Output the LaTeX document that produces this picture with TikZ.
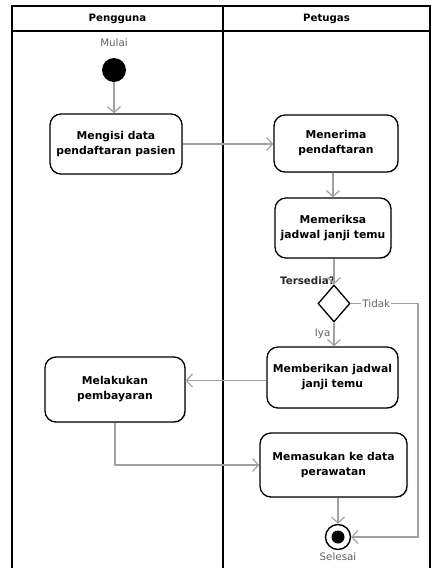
\documentclass[tikz,border=0pt]{standalone}
\usepackage{fontspec}
\setmainfont{DejaVu Sans}
\usepackage{tikz}
\usetikzlibrary{arrows.meta,shapes.geometric,shadows}
\definecolor{flowline}{gray}{0.63}
\definecolor{labgray}{gray}{0.38}
\tikzset{
  lane/.style={draw=black,line width=1.4pt},
  head/.style={font=\bfseries\fontsize{10.2}{12}\selectfont},
  act/.style={draw,line width=1.3pt,rounded corners=11pt,fill=white,align=center,inner sep=0pt,
    font=\bfseries\fontsize{10.8}{15}\selectfont,
    drop shadow={opacity=0.22,shadow xshift=1.2pt,shadow yshift=-1.2pt}},
  decide/.style={draw,diamond,line width=1.3pt,fill=white,inner sep=0pt,minimum width=32pt,minimum height=37pt},
  startnode/.style={circle,fill=black,minimum size=24pt,inner sep=0pt},
  endnode/.style={circle,draw,fill=white,line width=1.4pt,minimum size=25pt,inner sep=0pt},
  lbl/.style={font=\fontsize{10.3}{12}\selectfont,text=labgray,inner sep=1pt},
  flow/.style={draw=flowline,line width=1.3pt,-{Straight Barb[length=6pt,width=13pt,line width=1.2pt]}},
}
\begin{document}
\begin{tikzpicture}[x=1pt,y=-1pt]
  \useasboundingbox (0,0) rectangle (431,568);
  % swimlanes
  \draw[lane] (12,568) -- (12,6) -- (430,6) -- (430,568);
  \draw[lane] (12,31) -- (430,31);
  \draw[lane] (223,6) -- (223,568);
  \node[head] (hpengguna) at (117.5,18.5) {Pengguna};
  \node[head] (hpetugas) at (326.5,18.5) {Petugas};
  % start / end
  \node[startnode] (mulai) at (114,70) {};
  \node[lbl] (tmulai) at (114,43) {Mulai};
  \node[endnode] (selesai) at (338,537) {};
  \fill (selesai.center) circle (6.5);
  \node[lbl] (tselesai) at (338,557) {Selesai};
  % activities
  \node[act,minimum width=132pt,minimum height=60pt] (isi) at (116,144) {Mengisi data\\pendaftaran pasien};
  \node[act,minimum width=124pt,minimum height=57pt] (terima) at (336,143.5) {Menerima\\pendaftaran};
  \node[act,minimum width=116pt,minimum height=60pt] (periksa) at (333,228) {Memeriksa\\jadwal janji temu};
  \node[decide] (cek) at (334,303.5) {};
  \node[font=\bfseries\fontsize{10.3}{12}\selectfont,text=black!85,anchor=east,inner sep=0pt] (tersedia) at (335,281) {Tersedia?};
  \node[act,minimum width=131pt,minimum height=61pt] (beri) at (332.5,377.5) {Memberikan jadwal\\janji temu};
  \node[act,minimum width=140pt,minimum height=65pt] (bayar) at (115,389.5) {Melakukan\\pembayaran};
  \node[act,minimum width=147pt,minimum height=64pt] (masuk) at (333.5,465) {Memasukan ke data\\perawatan};
  \coordinate (tidakpojok) at (418,303.5);
  % flows
  \draw[flow] (mulai) -- (mulai |- isi.north);
  \draw[flow] (isi.east) -- (isi.east -| terima.west);
  \draw[flow] (periksa.north |- terima.south) -- (periksa.north);
  \draw[flow] (periksa.south -| cek) -- (cek.north);
  \draw[flow] (cek.south) -- node[lbl,left=2pt,pos=0.45] (iya) {Iya} (cek.south |- beri.north);
  \draw[flow] ([yshift=-3pt]beri.west) -- ([yshift=-3pt]beri.west -| bayar.east);
  \draw[flow] (bayar.south) |- (masuk.west);
  \draw[flow] (masuk.south -| selesai) -- (selesai.north);
  \draw[flow] (cek.east) -- node[lbl,fill=white,pos=0.38] (tidak) {Tidak} (tidakpojok) |- (selesai.east);
\end{tikzpicture}
\end{document}
